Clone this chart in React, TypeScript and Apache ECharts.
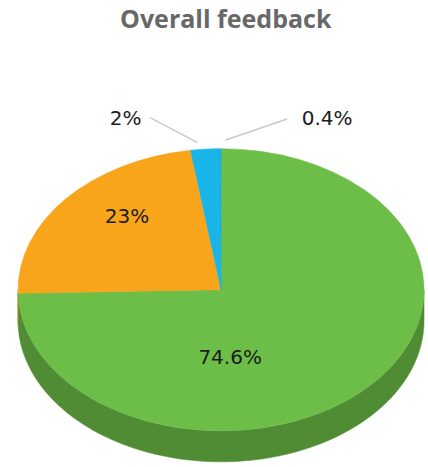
import React, { useEffect, useRef } from "react";
import * as echarts from "echarts";

// ---- data ----
const categories = ["Satisfied", "Neutral", "Dissatisfied", "Very dissatisfied"];
const values = [74.6, 23, 2, 0.4];
const valueLabels = ["74.6%", "23%", "2%", "0.4%"];
const topColors = ["#6cbe48", "#f8a51b", "#19b5e9", "#17b2e6"];
const sideColors = ["#4f8c33", "#b87812", "#1285ab", "#1285ab"];
const titleText = "Overall feedback";

// ---- layout (fractions of chart size / ellipse-normalised label anchors) ----
const layout = { cx: 0.5164, cy: 0.6204, rx: 0.4743, ryRatio: 0.695, depth: 31 };
// label placement in ellipse-normalised coords (u: /rx, v: /ry, from centre)
const labelPlacement = [
  { kind: "inside", u: 0.045, v: 0.48 },
  { kind: "inside", u: -0.463, v: -0.52 },
  { kind: "outside", lx1: -0.118, ly1: -1.045, lx2: -0.35, ly2: -1.22, tx: -0.47, ty: -1.22, align: "center" },
  { kind: "outside", lx1: 0.02, ly1: -1.06, lx2: 0.325, ly2: -1.21, tx: 0.523, ty: -1.22, align: "center" },
];

const total = values.reduce((a, b) => a + b, 0);
const startAngles: number[] = [];
{
  let acc = 0;
  for (const v of values) {
    startAngles.push(-Math.PI / 2 + (acc / total) * Math.PI * 2);
    acc += v;
  }
}

function geom(api: any) {
  const w = api.getWidth();
  const h = api.getHeight();
  const cx = w * layout.cx;
  const cy = h * layout.cy;
  const rx = w * layout.rx;
  const ry = rx * layout.ryRatio;
  return { cx, cy, rx, ry };
}

function sliceAngles(i: number, api: any) {
  const v = api.value(1);
  const a0 = startAngles[i];
  const a1 = a0 + (v / total) * Math.PI * 2;
  return [a0, a1];
}

export default function App() {
  const ref = useRef<HTMLDivElement>(null);
  useEffect(() => {
    document.body.style.margin = "0";
    const chart = echarts.init(ref.current!, undefined, { renderer: "svg" });
    const data = categories.map((c, i) => [i, values[i]]);

    const sideSeries = {
      type: "custom",
      coordinateSystem: "none",
      data,
      silent: true,
      renderItem: (params: any, api: any) => {
        const i = params.dataIndex;
        const { cx, cy, rx, ry } = geom(api);
        const [a0, a1] = sliceAngles(i, api);
        const children: any[] = [];
        const ranges = [
          [0, Math.PI],
          [2 * Math.PI, 3 * Math.PI],
          [-2 * Math.PI, -Math.PI],
        ];
        for (const [r0, r1] of ranges) {
          const s = Math.max(a0, r0);
          const e = Math.min(a1, r1);
          if (e <= s) continue;
          const n = Math.max(2, Math.ceil(((e - s) / Math.PI) * 120));
          const top: number[][] = [];
          for (let k = 0; k <= n; k++) {
            const t = s + ((e - s) * k) / n;
            top.push([cx + rx * Math.cos(t), cy + ry * Math.sin(t)]);
          }
          const bottom = top.map((p) => [p[0], p[1] + layout.depth]).reverse();
          children.push({
            type: "polygon",
            shape: { points: top.concat(bottom) },
            style: { fill: sideColors[i], stroke: sideColors[i], lineWidth: 0.5 },
          });
        }
        return { type: "group", children };
      },
    };

    const topSeries = {
      type: "custom",
      coordinateSystem: "none",
      data,
      silent: true,
      renderItem: (params: any, api: any) => {
        const i = params.dataIndex;
        const { cx, cy, rx, ry } = geom(api);
        const [a0, a1] = sliceAngles(i, api);
        return {
          type: "sector",
          x: cx,
          y: cy,
          scaleY: ry / rx,
          shape: { cx: 0, cy: 0, r0: 0, r: rx, startAngle: a0, endAngle: a1, clockwise: true },
          style: { fill: topColors[i], stroke: topColors[i], lineWidth: 0.6 },
        };
      },
    };

    const labelSeries = {
      type: "custom",
      coordinateSystem: "none",
      data,
      silent: true,
      renderItem: (params: any, api: any) => {
        const i = params.dataIndex;
        const { cx, cy, rx, ry } = geom(api);
        const p: any = labelPlacement[i];
        const font = { fontFamily: "DejaVu Sans", fontSize: 20, fill: "#1c1c1c" };
        const children: any[] = [];
        if (p.kind === "inside") {
          children.push({
            type: "text",
            style: {
              text: valueLabels[i],
              x: cx + p.u * rx,
              y: cy + p.v * ry,
              align: "center",
              verticalAlign: "middle",
              ...font,
            },
          });
        } else {
          children.push({
            type: "line",
            shape: { x1: cx + p.lx1 * rx, y1: cy + p.ly1 * ry, x2: cx + p.lx2 * rx, y2: cy + p.ly2 * ry },
            style: { stroke: "#c9c9c9", lineWidth: 1.5 },
          });
          children.push({
            type: "text",
            style: {
              text: valueLabels[i],
              x: cx + p.tx * rx,
              y: cy + p.ty * ry,
              align: p.align,
              verticalAlign: "middle",
              ...font,
            },
          });
        }
        return { type: "group", children };
      },
    };

    chart.setOption({
      animation: false,
      backgroundColor: "#ffffff",
      title: {
        text: titleText,
        left: 120,
        top: 4,
        padding: 0,
        textStyle: { fontFamily: "Open Sans", fontWeight: "bold", fontSize: 25, lineHeight: 28, color: "#686868" },
      },
      series: [sideSeries, topSeries, labelSeries],
    });
    return () => chart.dispose();
  }, []);
  return <div ref={ref} style={{ width: 428, height: 467 }} />;
}
